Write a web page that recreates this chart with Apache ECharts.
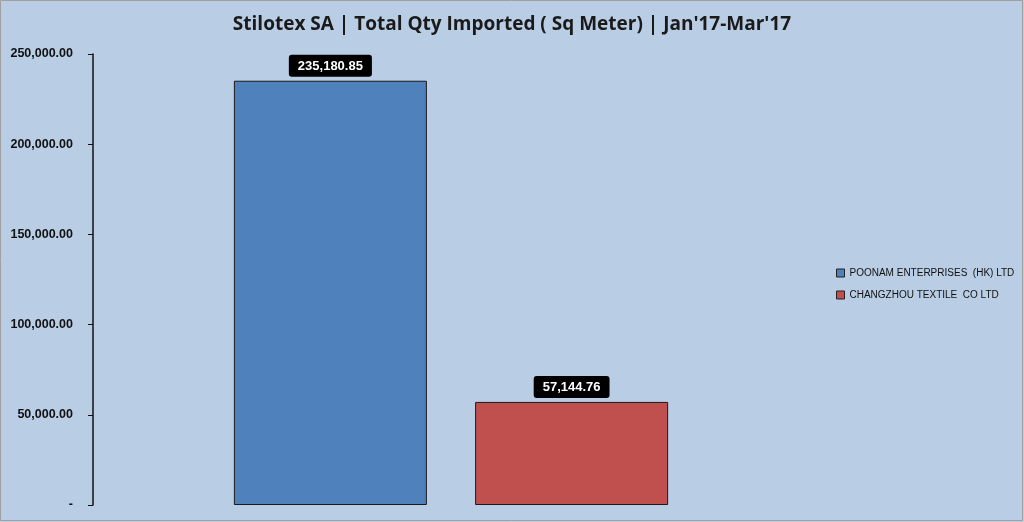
<!DOCTYPE html>
<html><head><meta charset="utf-8">
<script src="https://cdn.jsdelivr.net/npm/echarts@6/dist/echarts.min.js"></script>
<style>html,body{margin:0;padding:0;background:#B9CDE5}#c{width:1024px;height:522px}</style>
</head><body><div id="c"></div>
<script>
const titleText = "Stilotex SA | Total Qty Imported ( Sq Meter) | Jan'17-Mar'17";
const categories = [""];
const seriesNames = ["POONAM ENTERPRISES  (HK) LTD", "CHANGZHOU TEXTILE  CO LTD"];
const seriesValues = [[235180.85], [57144.76]];
const seriesColors = ["#4F81BD", "#C0504D"];

const fmt = v => v.toLocaleString('en-US', {minimumFractionDigits: 2, maximumFractionDigits: 2});
const chart = echarts.init(document.getElementById('c'));
chart.setOption({
  backgroundColor: '#B9CDE5',
  animation: false,
  graphic: [{type: 'rect', silent: true, shape: {x: 0.5, y: 0.5, width: 1022, height: 520}, style: {fill: 'none', stroke: '#A0A0A0', lineWidth: 1}}],
  title: {text: titleText, left: 'center', top: 10,
    textStyle: {fontFamily: 'Open Sans', fontWeight: 'bold', fontSize: 19, color: '#1a1a1a'}},
  legend: {orient: 'vertical', left: 831, top: 263, itemWidth: 8, itemHeight: 8, itemGap: 12,
    icon: 'rect', textStyle: {fontFamily: 'Liberation Sans', fontSize: 10, color: '#111'},
    itemStyle: {borderColor: '#222', borderWidth: 1}},
  grid: {left: 93, right: 215, top: 54, bottom: 17, containLabel: false},
  xAxis: {type: 'category', data: categories, show: false},
  yAxis: {type: 'value', min: 0, max: 250000, interval: 50000,
    axisLine: {show: true, lineStyle: {color: '#111', width: 1.5}},
    axisTick: {show: true, length: 5, lineStyle: {color: '#111'}},
    splitLine: {show: false},
    axisLabel: {margin: 20, fontFamily: 'Liberation Sans', fontWeight: 'bold', fontSize: 12.5, color: '#111',
      formatter: v => v === 0 ? '-' : fmt(v)}},
  series: seriesNames.map((n, i) => ({
    name: n, type: 'bar', data: seriesValues[i], barWidth: 193, barGap: '25%',
    itemStyle: {color: seriesColors[i], borderColor: '#1a1a1a', borderWidth: 1},
    label: {show: true, position: 'top', distance: 4, formatter: p => fmt(p.value),
      backgroundColor: '#000', color: '#fff', fontFamily: 'Liberation Sans', fontWeight: 'bold', fontSize: 13,
      padding: [5, 9, 4, 9], borderRadius: 3}
  }))
});
</script></body></html>
